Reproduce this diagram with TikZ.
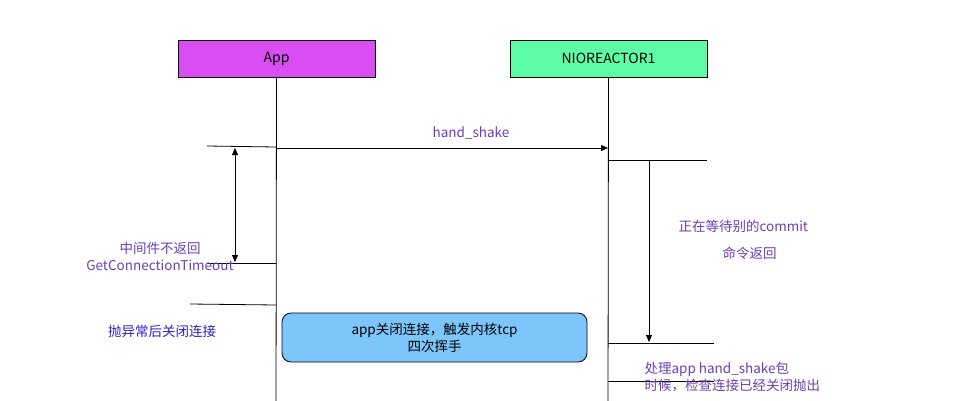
\documentclass[tikz,border=0pt]{standalone}
\usepackage{fontspec}
\setmainfont{Noto Sans CJK SC}
\usetikzlibrary{arrows.meta}
\definecolor{appc}{HTML}{D94DF2}
\definecolor{nioc}{HTML}{5CFDA6}
\definecolor{boxc}{HTML}{7CC6FB}
\definecolor{purp}{HTML}{6A3FB5}
\definecolor{blu}{HTML}{2A20C8}
\begin{document}
\begin{tikzpicture}[x=1pt,y=-1pt,
  actor/.style={draw,line width=0.8pt,minimum width=197pt,minimum height=37pt,font=\fontsize{14}{16}\selectfont},
  lbl/.style={font=\fontsize{13.5}{17}\selectfont,text=purp,align=center},
  ln/.style={line width=0.8pt},
  arr/.style={ln,-{Triangle[length=7pt,width=6pt]}}]
\useasboundingbox (0,0) rectangle (964,400);
\clip (0,0) rectangle (964,400);
\node[actor,fill=appc] (app) at (276.5,58.5) {App};
\node[actor,fill=nioc] (nio) at (608.5,58.5) {NIOREACTOR1};
\coordinate (appb) at (276,410);
\coordinate (niob) at (608,410);
\draw[ln] (app.south) -- (appb);
\draw[ln] (nio.south) -- (niob);
% hand shake
\coordinate (h1) at (276,148); \coordinate (h2) at (608,148);
\draw[arr] (h1) -- (h2);
\node[lbl] (hs) at (471,133) {hand\_shake};
% left ticks
\coordinate (l1a) at (207,146); \coordinate (l1b) at (276,147);
\coordinate (l2a) at (207,263); \coordinate (l2b) at (276,263);
\coordinate (l3a) at (190,304); \coordinate (l3b) at (276,305);
\draw[ln] (l1a) -- (l1b); \draw[ln] (l2a) -- (l2b); \draw[ln] (l3a) -- (l3b);
\coordinate (d1) at (235,148); \coordinate (d2) at (235,262);
\draw[ln,{Triangle[length=7pt,width=6pt]}-{Triangle[length=7pt,width=6pt]}] (d1) -- (d2);
\node[lbl] (t1) at (160,256) {中间件不返回\\GetConnectionTimeout};
\node[lbl,text=blu] (t2) at (162,331) {抛异常后关闭连接};
\node[draw,ln,fill=boxc,rounded corners=9pt,minimum width=305pt,minimum height=49pt,align=center,font=\fontsize{13.5}{17}\selectfont] (close) at (434.5,337.5) {app关闭连接，触发内核tcp\\四次挥手};
% right
\coordinate (r1a) at (608,160); \coordinate (r1b) at (707,160);
\coordinate (r2a) at (608,343); \coordinate (r2b) at (714,343);
\coordinate (r3a) at (608,381); \coordinate (r3b) at (714,381);
\draw[ln] (r1a) -- (r1b); \draw[ln] (r2a) -- (r2b); \draw[ln] (r3a) -- (r3b);
\coordinate (w1) at (649,160); \coordinate (w2) at (649,342);
\draw[arr] (w1) -- (w2);
\node[lbl,align=left,anchor=west] (t3) at (675,226) {正在等待别的commit};
\node[lbl,anchor=west] (t4) at (719,253) {命令返回};
\node[lbl,align=left,anchor=north west] (t5) at (641,359) {处理app hand\_shake包\\时候，检查连接已经关闭抛出};
\end{tikzpicture}
\end{document}
